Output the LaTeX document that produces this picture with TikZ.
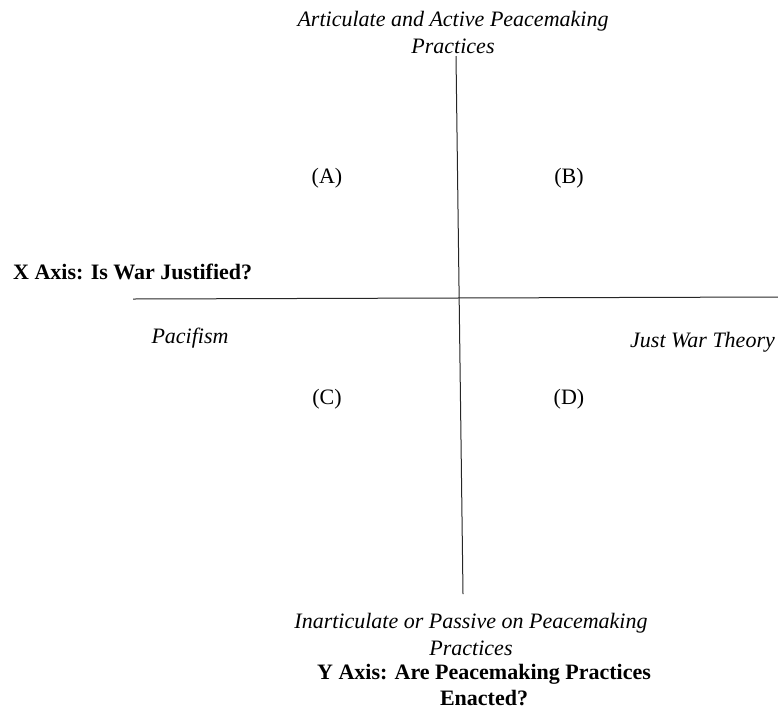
\documentclass[tikz,border=0pt]{standalone}
\usepackage{fontspec}
\setmainfont{Liberation Serif}
\usetikzlibrary{positioning}
\tikzset{
  lbl/.style={font=\fontsize{22}{27}\selectfont\itshape, align=center, inner sep=0pt},
  axlbl/.style={font=\fontsize{22}{26}\selectfont\bfseries, align=center, inner sep=0pt},
  quad/.style={font=\fontsize{22}{26}\selectfont, inner sep=0pt},
  axis/.style={line width=1pt, draw=black!85}
}
\begin{document}
\begin{tikzpicture}[x=1pt,y=-1pt]
\useasboundingbox (0,0) rectangle (778,710);
\coordinate (xl) at (133,299);
\coordinate (xr) at (778,297);
\coordinate (yt) at (456,56);
\coordinate (yb) at (463,594);
\draw [axis] (xl) -- (xr);
\draw [axis] (yt) -- (yb);
\node [lbl] (top) at (453,32) {Articulate and Active Peacemaking\\Practices};
\node [quad] (a) at (327,178) {(A)};
\node [quad] (b) at (569,178) {(B)};
\node [quad] (c) at (327,399) {(C)};
\node [quad] (d) at (569,399) {(D)};
\node [axlbl, anchor=west] (xax) at (13,272) {X Axis: Is War Justified?};
\node [lbl] (pac) at (190,338) {Pacifism};
\node [lbl, anchor=west] (jwt) at (630,342) {Just War Theory};
\node [lbl] (bot) at (471,634) {Inarticulate or Passive on Peacemaking\\Practices};
\node [axlbl] (yax) at (484,685) {Y Axis: Are Peacemaking Practices\\Enacted?};
\end{tikzpicture}
\end{document}
